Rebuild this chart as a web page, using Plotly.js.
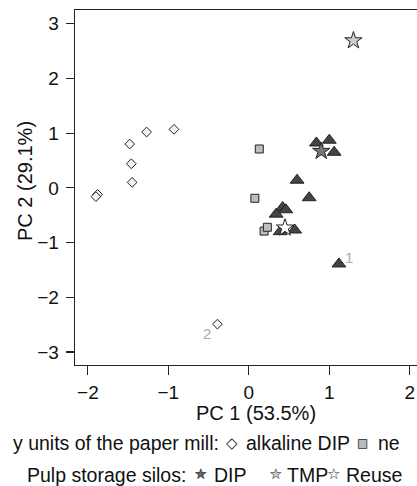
<!DOCTYPE html>
<html>
<head>
<meta charset="utf-8">
<script src="https://cdn.plot.ly/plotly-3.0.1.min.js"></script>
<style>
html, body { margin: 0; padding: 0; overflow: hidden; background: #fff; }
#chart { width: 470px; height: 486px; }
</style>
</head>
<body>
<div id="chart"></div>
<script>
// ---- data ----
const alkalineX = [-1.88, -1.90, -1.48, -1.27, -0.93, -1.46, -1.45, -0.39];
const alkalineY = [-0.12, -0.16, 0.80, 1.02, 1.07, 0.44, 0.10, -2.49];
const neutralX = [0.13, 0.075, 0.19, 0.23];
const neutralY = [0.71, -0.19, -0.79, -0.72];
const triX = [0.84, 1.00, 1.06, 0.60, 0.75, 0.42, 0.46, 0.34, 0.39, 0.57, 1.12];
const triY = [0.82, 0.87, 0.65, 0.14, -0.18, -0.36, -0.40, -0.48, -0.80, -0.77, -1.39];
const dipSiloX = [0.90];
const dipSiloY = [0.67];
const tmpSiloX = [1.30];
const tmpSiloY = [2.69];
const reuseSiloX = [0.45];
const reuseSiloY = [-0.73];
const xTitle = "PC 1 (53.5%)";
const yTitle = "PC 2 (29.1%)";
const legendLine1 = "y units of the paper mill:";
const legendLine2 = "Pulp storage silos:";

// ---- layout geometry ----
const W = 470, H = 486, ML = 75, MR = 20, MT = 10, MB = 121;
const PW = W - ML - MR, PH = H - MT - MB;
const xp = sx => (sx - ML) / PW;
const yp = sy => (H - MB - sy) / PH;
const FONT = "Liberation Sans, Arial, Helvetica, sans-serif";
const SYM = "DejaVu Sans, sans-serif";
const FS = 19.5;

const outline = { color: '#222', width: 1 };
const traces = [
  { x: alkalineX, y: alkalineY, name: 'alkaline DIP', mode: 'markers', type: 'scatter',
    marker: { symbol: 'diamond', size: 7.5, color: '#f2f2f2', line: outline } },
  { x: neutralX, y: neutralY, name: 'neutral DIP', mode: 'markers', type: 'scatter',
    marker: { symbol: 'square', size: 8, color: '#bdbdbd', line: outline } },
  { x: triX, y: triY, name: 'units', mode: 'markers', type: 'scatter',
    marker: { symbol: 'triangle-up', size: 12, color: '#444', line: outline } },
  { x: dipSiloX, y: dipSiloY, name: 'DIP', mode: 'markers', type: 'scatter',
    marker: { symbol: 'star', size: 13, color: '#777', line: outline } },
  { x: tmpSiloX, y: tmpSiloY, name: 'TMP', mode: 'markers', type: 'scatter',
    marker: { symbol: 'star', size: 13, color: '#cfcfcf', line: outline } },
  { x: reuseSiloX, y: reuseSiloY, name: 'Reuse', mode: 'markers', type: 'scatter',
    marker: { symbol: 'star', size: 13, color: '#ffffff', line: outline } }
];

function txt(text, sx, sy, anchor, opts) {
  return Object.assign({ text: text, xref: 'paper', yref: 'paper', x: xp(sx), y: yp(sy),
    xanchor: anchor, yanchor: 'middle', showarrow: false, borderpad: 0,
    font: { family: FONT, size: FS, color: '#111' } }, opts || {});
}
function sym(ch, sx, sy, size, color) {
  return txt(ch, sx, sy, 'center', { font: { family: SYM, size: size, color: color } });
}

const annotations = [
  txt(xTitle, 256, 413, 'center', { font: { family: FONT, size: 20, color: '#111' } }),
  txt(yTitle, 25, 181, 'center', { textangle: -90, font: { family: FONT, size: 20, color: '#111' } }),
  txt(legendLine1, 220, 443, 'right'),
  sym('◇', 232, 443, 15, '#222'),
  txt('alkaline DIP', 245, 443, 'left'),
  sym('■', 362, 443, 12, '#bbb'),
  sym('□', 362, 443, 12, '#333'),
  txt('ne', 377, 443, 'left'),
  txt(legendLine2, 187, 475, 'right'),
  sym('★', 200, 474, 15, '#666'),
  sym('☆', 200, 474, 15, '#222'),
  txt('DIP', 213, 475, 'left'),
  sym('★', 275, 474, 15, '#d0d0d0'),
  sym('☆', 275, 474, 15, '#222'),
  txt('TMP', 286, 475, 'left'),
  sym('☆', 333, 474, 15, '#222'),
  txt('Reuse', 345, 475, 'left'),
  { text: '1', x: triX[10], y: triY[10], xref: 'x', yref: 'y', showarrow: false,
    xshift: 10, yshift: 6, font: { family: FONT, size: 15, color: '#aaa' } },
  { text: '2', x: alkalineX[7], y: alkalineY[7], xref: 'x', yref: 'y', showarrow: false,
    xshift: -10, yshift: -9, font: { family: FONT, size: 15, color: '#aaa' } }
];

const axisCommon = {
  showline: true, mirror: true, linecolor: '#222', linewidth: 1.3,
  ticks: 'outside', tickcolor: '#222', tickwidth: 1.2,
  showgrid: false, zeroline: false, tick0: 0, dtick: 1,
  tickfont: { family: FONT, size: 19, color: '#111' }
};

const layout = {
  width: W, height: H,
  margin: { l: ML, r: MR, t: MT, b: MB, pad: 0 },
  paper_bgcolor: '#fff', plot_bgcolor: '#fff',
  showlegend: false,
  xaxis: Object.assign({}, axisCommon, { range: [-2.16, 2.5], ticklen: 9, ticklabelstandoff: 1 }),
  yaxis: Object.assign({}, axisCommon, { range: [-3.236, 3.249], ticklen: 8, ticklabelstandoff: 3 }),
  annotations: annotations,
  font: { family: FONT }
};

Plotly.newPlot('chart', traces, layout, { staticPlot: true, displayModeBar: false });
</script>
</body>
</html>
